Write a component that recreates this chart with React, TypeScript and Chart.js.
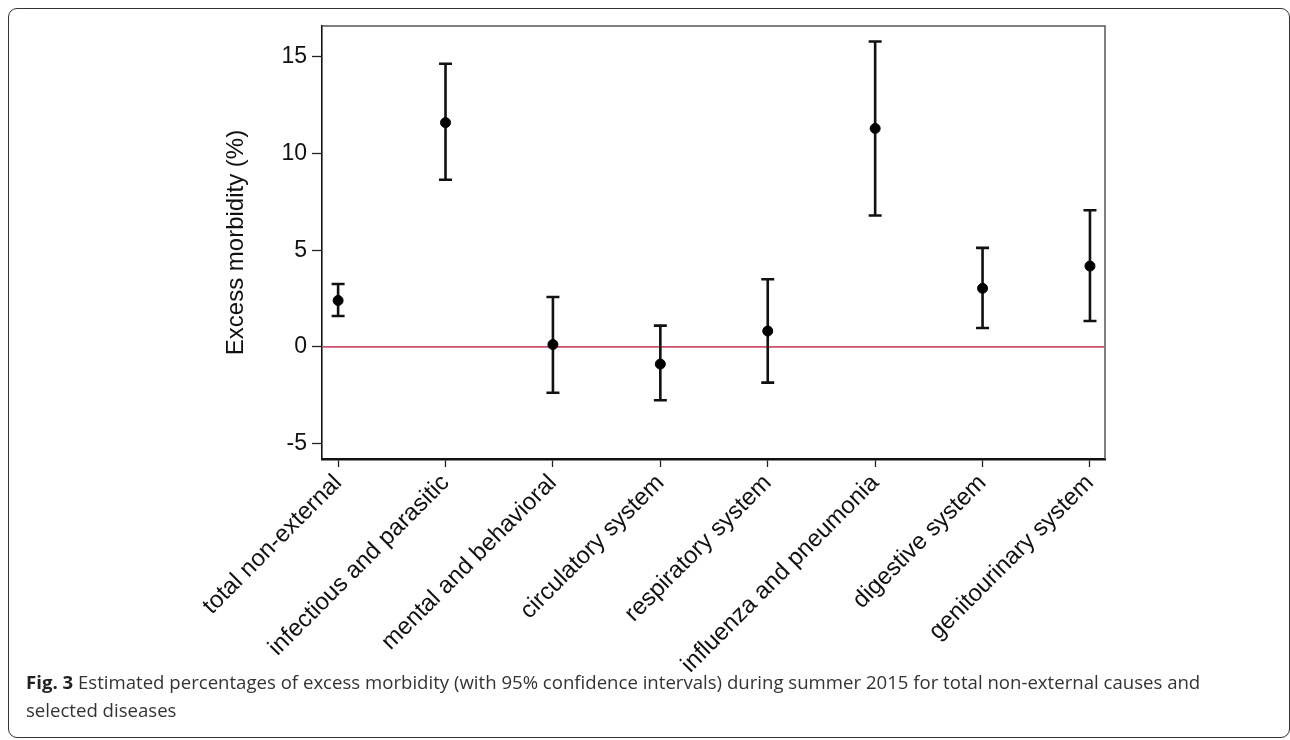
import React, { useEffect, useRef } from "react";
import { Chart, registerables } from "chart.js";

Chart.register(...registerables);

const categories = [
  "total non-external",
  "infectious and parasitic",
  "mental and behavioral",
  "circulatory system",
  "respiratory system",
  "influenza and pneumonia",
  "digestive system",
  "genitourinary system",
];
const estimates = [2.4, 11.6, 0.12, -0.89, 0.82, 11.3, 3.03, 4.18];
const lowerCI = [1.6, 8.65, -2.37, -2.76, -1.85, 6.8, 0.98, 1.34];
const upperCI = [3.25, 14.65, 2.58, 1.1, 3.5, 15.8, 5.12, 7.07];
const yTickValues = [-5, 0, 5, 10, 15];
const referenceValue = 0;
const yTitle = "Excess morbidity (%)";
const captionBold = "Fig. 3";
const captionLine1 =
  " Estimated percentages of excess morbidity (with 95% confidence intervals) during summer 2015 for total non-external causes and";
const captionLine2 = "selected diseases";

const AXIS_FONT = "'Liberation Sans', Arial, sans-serif";

const errorBarPlugin = {
  id: "errorBars",
  beforeDatasetsDraw(chart: any) {
    const { ctx, chartArea, scales } = chart;
    const xs = scales.x;
    const ys = scales.y;
    ctx.save();
    // frame top & right
    ctx.strokeStyle = "#555";
    ctx.lineWidth = 1.5;
    ctx.beginPath();
    ctx.moveTo(chartArea.left, chartArea.top);
    ctx.lineTo(chartArea.right, chartArea.top);
    ctx.lineTo(chartArea.right, chartArea.bottom);
    ctx.stroke();
    // reference line
    const y0 = ys.getPixelForValue(referenceValue);
    ctx.strokeStyle = "#d24c6b";
    ctx.lineWidth = 1.7;
    ctx.beginPath();
    ctx.moveTo(chartArea.left + 1, y0);
    ctx.lineTo(chartArea.right - 1, y0);
    ctx.stroke();
    // error bars
    ctx.strokeStyle = "#111";
    ctx.lineWidth = 2.6;
    const cap = 6.5;
    categories.forEach((_, i) => {
      const x = xs.getPixelForValue(i + 1);
      const yl = ys.getPixelForValue(lowerCI[i]);
      const yu = ys.getPixelForValue(upperCI[i]);
      ctx.beginPath();
      ctx.moveTo(x, yl);
      ctx.lineTo(x, yu);
      ctx.moveTo(x - cap, yl);
      ctx.lineTo(x + cap, yl);
      ctx.moveTo(x - cap, yu);
      ctx.lineTo(x + cap, yu);
      ctx.stroke();
    });
    ctx.restore();
  },
};

export default function App() {
  const ref = useRef<HTMLCanvasElement | null>(null);
  useEffect(() => {
    if (!ref.current) return;
    const chart = new Chart(ref.current, {
      type: "scatter",
      data: {
        datasets: [
          {
            data: estimates.map((v, i) => ({ x: i + 1, y: v })),
            backgroundColor: "#000",
            borderColor: "#000",
            pointRadius: 5,
            pointHoverRadius: 5,
          },
        ],
      },
      options: {
        animation: false,
        responsive: false,
        devicePixelRatio: 1,
        layout: { padding: { left: 210, top: 26, right: 185, bottom: 26 } },
        plugins: { legend: { display: false }, tooltip: { enabled: false } },
        scales: {
          x: {
            type: "linear",
            min: 0.85,
            max: 8.14,
            afterBuildTicks: (s: any) => {
              s.ticks = categories.map((_, i) => ({ value: i + 1 }));
            },
            afterFit: (s: any) => {
              s.height = 215;
            },
            grid: {
              drawOnChartArea: false,
              drawTicks: true,
              tickLength: 8,
              tickWidth: 1.3,
              tickColor: "#222",
            },
            border: { display: true, color: "#111", width: 2.5 },
            ticks: {
              autoSkip: false,
              minRotation: 45,
              maxRotation: 45,
              padding: 2,
              color: "#111",
              font: { family: AXIS_FONT, size: 24 },
              callback: (v: any) => {
                const i = Math.round(Number(v)) - 1;
                return categories[i] ?? "";
              },
            },
          },
          y: {
            type: "linear",
            min: -5.8,
            max: 16.6,
            afterBuildTicks: (s: any) => {
              s.ticks = yTickValues.map((v) => ({ value: v }));
            },
            afterFit: (s: any) => {
              s.width = 112;
            },
            grid: {
              drawOnChartArea: false,
              drawTicks: true,
              tickLength: 10,
              tickWidth: 1.3,
              tickColor: "#222",
            },
            border: { display: true, color: "#111", width: 1.6 },
            ticks: {
              padding: 5,
              color: "#111",
              font: { family: AXIS_FONT, size: 23 },
              callback: (v: any) => String(v),
            },
            title: {
              display: true,
              text: yTitle,
              color: "#111",
              font: { family: AXIS_FONT, size: 24 },
              padding: { top: 12, bottom: 0 },
            },
          },
        },
      },
      plugins: [errorBarPlugin],
    });
    return () => chart.destroy();
  }, []);

  return (
    <div style={{ position: "absolute", left: 0, top: 0, width: 1290, height: 740, background: "#fff" }}>
      <div
        style={{
          position: "absolute",
          left: 8,
          top: 8,
          width: 1282,
          height: 730,
          boxSizing: "border-box",
          border: "1.5px solid #333",
          borderRadius: 9,
        }}
      />
      <canvas
        ref={ref}
        width={1290}
        height={700}
        style={{ position: "absolute", left: 0, top: 0, width: 1290, height: 700 }}
      />
      <div
        style={{
          position: "absolute",
          left: 26,
          top: 668,
          fontFamily: "'Open Sans', 'Noto Sans', sans-serif",
          fontSize: 18.6,
          lineHeight: "28px",
          color: "#333",
          whiteSpace: "nowrap",
        }}
      >
        <span style={{ fontWeight: 700, color: "#222" }}>{captionBold}</span>
        {captionLine1}
        <br />
        {captionLine2}
      </div>
    </div>
  );
}
